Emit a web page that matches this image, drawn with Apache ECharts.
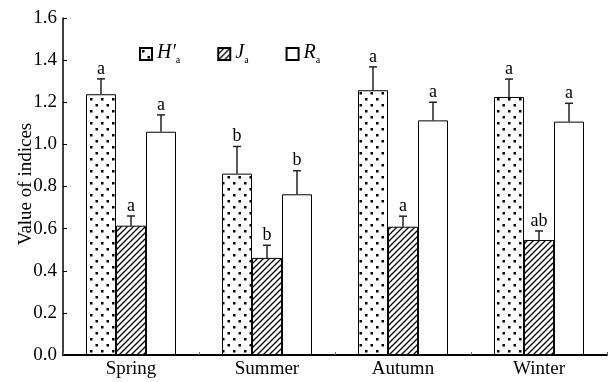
<!DOCTYPE html>
<html><head><meta charset="utf-8">
<script src="https://cdn.jsdelivr.net/npm/echarts@6/dist/echarts.min.js"></script>
<style>html,body{margin:0;padding:0;background:#fff}#c{width:608px;height:382px}</style>
</head><body><div id="c"></div>
<script>
const categories = ['Spring', 'Summer', 'Autumn', 'Winter'];
const hValues = [1.238, 0.861, 1.257, 1.225];
const hErrors = [0.073, 0.129, 0.111, 0.085];
const jValues = [0.614, 0.461, 0.609, 0.546];
const jErrors = [0.046, 0.060, 0.050, 0.043];
const rValues = [1.060, 0.763, 1.114, 1.108];
const rErrors = [0.080, 0.112, 0.086, 0.087];
const hLetters = ['a', 'b', 'a', 'a'];
const jLetters = ['a', 'b', 'a', 'ab'];
const rLetters = ['a', 'b', 'a', 'a'];
const yTicks = [0, 0.2, 0.4, 0.6, 0.8, 1.0, 1.2, 1.4, 1.6];

const SERIF = '"Liberation Serif", "DejaVu Serif", serif';

function dotPattern() {
  const c = document.createElement('canvas');
  c.width = 11; c.height = 12;
  const g = c.getContext('2d');
  g.fillStyle = '#fff'; g.fillRect(0, 0, 11, 12);
  g.fillStyle = '#000';
  g.fillRect(2, 2, 2.5, 2.5);
  g.fillRect(7.5, 8, 2.5, 2.5);
  return c;
}
function hatchPattern() {
  const c = document.createElement('canvas');
  c.width = 6; c.height = 6;
  const g = c.getContext('2d');
  g.fillStyle = '#fff'; g.fillRect(0, 0, 6, 6);
  g.strokeStyle = '#000'; g.lineWidth = 1.3;
  g.beginPath();
  g.moveTo(-1, 7); g.lineTo(7, -1);
  g.moveTo(-4, 4); g.lineTo(4, -4);
  g.moveTo(2, 10); g.lineTo(10, 2);
  g.stroke();
  return c;
}

const groups = [
  { name: 'H', values: hValues, errors: hErrors, letters: hLetters, color: { image: dotPattern(), repeat: 'repeat' } },
  { name: 'J', values: jValues, errors: jErrors, letters: jLetters, color: { image: hatchPattern(), repeat: 'repeat' } },
  { name: 'R', values: rValues, errors: rErrors, letters: rLetters, color: '#fff' }
];
const legendLabels = { H: '{i|H′}{s|a}', J: '{i|J}{s|a}', R: '{i|R}{s|a}' };

const BAR_W = 30;
const errData = [];
groups.forEach((g, gi) => {
  g.values.forEach((v, ci) => errData.push([ci, v, g.errors[ci], gi]));
});

const series = groups.map(g => ({
  name: g.name,
  type: 'bar',
  data: g.values,
  barWidth: BAR_W,
  barGap: '0%',
  itemStyle: { color: g.color, borderColor: '#000', borderWidth: 1 },
  emphasis: { disabled: true },
  animation: false
}));
series.push({
  type: 'custom',
  data: errData,
  encode: { x: 0, y: 1 },
  animation: false,
  z: 5,
  renderItem: function (params, api) {
    const ci = api.value(0), v = api.value(1), e = api.value(2), gi = api.value(3);
    const base = api.coord([ci, v]);
    const top = api.coord([ci, v + e]);
    const x = base[0] + (gi - 1) * BAR_W;
    const st = { stroke: '#222', lineWidth: 1.5 };
    return {
      type: 'group',
      children: [
        { type: 'line', shape: { x1: x, y1: base[1], x2: x, y2: top[1] }, style: st },
        { type: 'line', shape: { x1: x - 4, y1: top[1], x2: x + 4, y2: top[1] }, style: st },
        { type: 'text', style: { x: x, y: top[1] - 1, text: groups[gi].letters[ci], textAlign: 'center', textVerticalAlign: 'bottom', font: '18px ' + SERIF, fill: '#000' } }
      ]
    };
  }
});

const chart = echarts.init(document.getElementById('c'), null, { renderer: 'canvas' });
chart.setOption({
  animation: false,
  backgroundColor: '#fff',
  grid: { left: 63, right: 1, top: 18, bottom: 27, containLabel: false },
  legend: {
    data: ['H', 'J', 'R'],
    left: 134, top: 38,
    itemWidth: 12, itemHeight: 12, itemGap: 37,
    icon: 'rect',
    formatter: n => legendLabels[n],
    textStyle: {
      rich: {
        i: { fontFamily: SERIF, fontStyle: 'italic', fontSize: 20, color: '#000', lineHeight: 20, verticalAlign: 'top' },
        s: { fontFamily: SERIF, fontSize: 10, color: '#000', lineHeight: 22, verticalAlign: 'bottom' }
      }
    },
    selectedMode: false
  },
  xAxis: {
    type: 'category',
    data: categories,
    axisLine: { lineStyle: { color: '#000', width: 2 } },
    axisTick: { show: true, inside: true, length: 3, lineStyle: { color: '#666' } },
    axisLabel: { fontFamily: SERIF, fontSize: 19, color: '#000', margin: 5 },
    splitLine: { show: false }
  },
  yAxis: {
    type: 'value',
    min: 0, max: 1.6, interval: 0.2,
    name: 'Value of indices',
    nameLocation: 'middle',
    nameGap: 27,
    nameMoveOverlap: false,
    nameTextStyle: { fontFamily: SERIF, fontSize: 19, color: '#000', padding: [0, 0, 0, 5] },
    axisLine: { show: true, lineStyle: { color: '#000', width: 1.5 } },
    axisTick: { show: true, inside: true, length: 4, lineStyle: { color: '#000' } },
    axisLabel: { fontFamily: SERIF, fontSize: 19, color: '#000', margin: 6, formatter: v => (yTicks.includes(Math.round(v * 10) / 10) ? v.toFixed(1) : '') },
    splitLine: { show: false }
  },
  series: series
});
</script></body></html>
